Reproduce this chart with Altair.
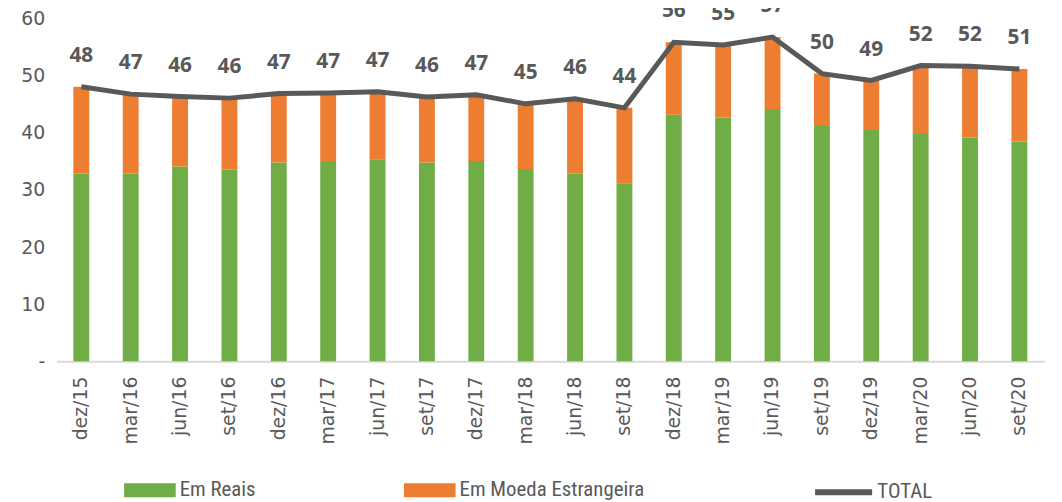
import altair as alt
import pandas as pd

periods = ["dez/15", "mar/16", "jun/16", "set/16", "dez/16", "mar/17", "jun/17",
           "set/17", "dez/17", "mar/18", "jun/18", "set/18", "dez/18", "mar/19",
           "jun/19", "set/19", "dez/19", "mar/20", "jun/20", "set/20"]
em_reais = [32.9, 32.9, 34.1, 33.6, 34.8, 35.1, 35.4, 34.8, 35.1, 33.7,
            32.9, 31.2, 43.2, 42.7, 44.2, 41.2, 40.5, 39.8, 39.2, 38.5]
total = [48.1, 46.8, 46.4, 46.1, 46.9, 47.0, 47.2, 46.3, 46.7, 45.1,
         46.0, 44.4, 55.9, 55.4, 56.8, 50.4, 49.2, 51.8, 51.7, 51.2]
em_moeda = [round(t - r, 2) for t, r in zip(total, em_reais)]

series_names = ["Em Reais", "Em Moeda Estrangeira"]
series_colors = ["#70ad47", "#ed7d31"]
line_name = "TOTAL"
line_color = "#595959"
text_color = "#595959"
legend_font = "Liberation Sans Narrow, Roboto Condensed, Open Sans"
axis_font = "DejaVu Sans"

rows = []
for i, p in enumerate(periods):
    rows.append({"periodo": p, "serie": series_names[0], "valor": em_reais[i], "ordem": 0})
    rows.append({"periodo": p, "serie": series_names[1], "valor": em_moeda[i], "ordem": 1})
bars_df = pd.DataFrame(rows)
tot_df = pd.DataFrame({"periodo": periods, "total": total, "serie": [line_name] * len(periods)})

x_enc = alt.X("periodo:N", sort=periods, title=None,
              scale=alt.Scale(paddingInner=0.0, paddingOuter=0.0),
              axis=alt.Axis(labelAngle=-90, labelFontSize=19, labelColor=text_color,
                            labelFont=axis_font, labelPadding=15, ticks=False,
                            domain=True, domainColor="#d9d9d9", domainWidth=2, grid=False))
y_scale = alt.Scale(domain=[0, 60], nice=False)

bars = alt.Chart(bars_df).mark_bar(size=16).encode(
    x=x_enc,
    y=alt.Y("valor:Q", stack="zero", scale=y_scale, title=None,
            axis=alt.Axis(values=[0, 10, 20, 30, 40, 50, 60], grid=False, domain=False,
                          ticks=False, labelFontSize=19, labelColor=text_color,
                          labelFont=axis_font, labelPadding=12,
                          labelExpr="datum.value == 0 ? '-' : datum.label")),
    color=alt.Color("serie:N", scale=alt.Scale(domain=series_names, range=series_colors),
                    legend=alt.Legend(title=None, orient="none", direction="horizontal",
                                      legendX=68, legendY=449,
                                      symbolType="M-1,-0.27H1V0.27H-1Z", symbolSize=2704,
                                      symbolStrokeWidth=0, symbolOpacity=1,
                                      labelFontSize=21, labelColor=text_color,
                                      labelFont=legend_font, labelLimit=400,
                                      labelOffset=4, columnPadding=149)),
    order=alt.Order("ordem:Q"),
)

line = alt.Chart(tot_df).mark_line(strokeWidth=5).encode(
    x=x_enc,
    y=alt.Y("total:Q", scale=y_scale),
    stroke=alt.Stroke("serie:N", scale=alt.Scale(domain=[line_name], range=[line_color]),
                      legend=alt.Legend(title=None, orient="none", legendX=761, legendY=445,
                                        symbolType="stroke", symbolSize=3300,
                                        symbolStrokeWidth=6, labelFontSize=21,
                                        labelColor=text_color, labelFont=legend_font,
                                        labelLimit=400, labelOffset=2)),
)

labels = alt.Chart(tot_df).mark_text(dy=-31, fontSize=21, fontWeight="bold",
                                     font="Open Sans", color=text_color).encode(
    x=x_enc,
    y=alt.Y("total:Q", scale=y_scale),
    text=alt.Text("total:Q", format=".0f"),
)

chart = alt.layer(bars, line, labels).properties(
    width=995, height=345,
    autosize=alt.AutoSizeParams(type="none"),
    padding={"left": 49, "top": 9, "right": 10, "bottom": 140},
).configure_view(stroke=None)

chart.save("out.html", embed_options={"renderer": "svg", "actions": False})
